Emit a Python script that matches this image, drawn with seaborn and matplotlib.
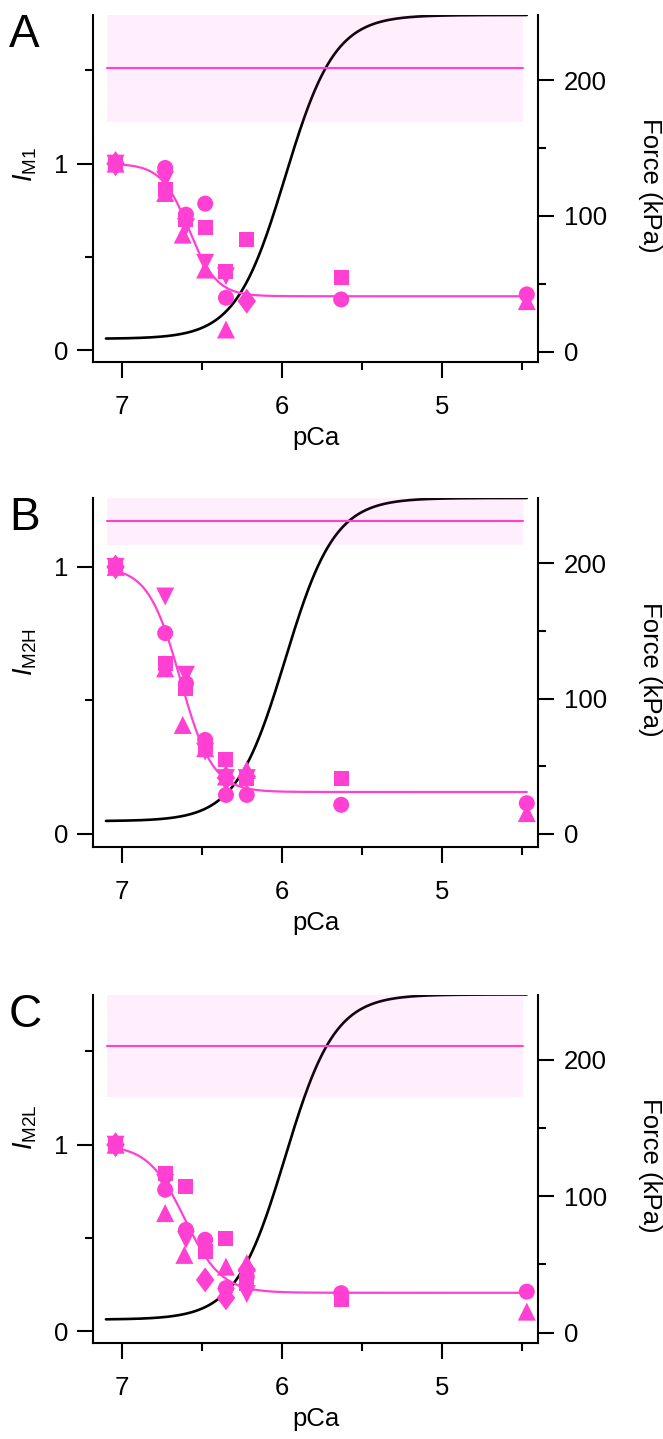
import numpy as np
import pandas as pd
import matplotlib
matplotlib.use("Agg")
import matplotlib.pyplot as plt
import seaborn as sns

sns.set_theme(style="ticks")
plt.rcParams['font.family'] = ['Liberation Sans', 'DejaVu Sans']
plt.rcParams['mathtext.fontset'] = 'custom'
plt.rcParams['mathtext.rm'] = 'Liberation Sans'
plt.rcParams['mathtext.it'] = 'Liberation Sans:italic'
plt.rcParams['mathtext.bf'] = 'Liberation Sans:bold'
plt.rcParams['text.color'] = 'black'
plt.rcParams['axes.labelcolor'] = 'black'
plt.rcParams['xtick.color'] = 'black'
plt.rcParams['ytick.color'] = 'black'
plt.rcParams['axes.edgecolor'] = 'black'

PINK = '#ff40d2'

# ---------------- data ----------------
panel_letters = ['A', 'B', 'C']
ylabels = [r'$\mathit{I}_{\mathrm{M1}}$', r'$\mathit{I}_{\mathrm{M2H}}$', r'$\mathit{I}_{\mathrm{M2L}}$']
xlabel = 'pCa'
force_label = 'Force (kPa)'

# Panel A (I_M1): long-form points
A_shape = ['circle'] * 7 + ['square'] * 7 + ['tri_up'] * 6 + ['tri_down'] * 5 + ['diamond'] * 2
A_pca = [7.04, 6.73, 6.60, 6.48, 6.35, 5.63, 4.47,
         7.04, 6.73, 6.60, 6.48, 6.35, 6.22, 5.63,
         7.04, 6.73, 6.62, 6.48, 6.35, 4.47,
         7.04, 6.73, 6.60, 6.48, 6.35,
         7.04, 6.22]
A_I = [1.0, 0.977, 0.727, 0.786, 0.282, 0.273, 0.300,
       1.0, 0.861, 0.700, 0.656, 0.424, 0.594, 0.389,
       1.0, 0.843, 0.620, 0.433, 0.112, 0.264,
       1.0, 0.914, 0.660, 0.469, 0.397,
       1.0, 0.264]

# Panel B (I_M2H)
B_shape = ['circle'] * 8 + ['square'] * 7 + ['tri_up'] * 7 + ['tri_down'] * 6 + ['diamond'] * 3
B_pca = [7.04, 6.73, 6.60, 6.48, 6.35, 6.22, 5.63, 4.47,
         7.04, 6.73, 6.60, 6.48, 6.35, 6.22, 5.63,
         7.04, 6.73, 6.62, 6.48, 6.35, 6.22, 4.47,
         7.04, 6.73, 6.60, 6.48, 6.35, 6.22,
         7.04, 6.35, 6.22]
B_I = [1.0, 0.752, 0.564, 0.352, 0.146, 0.146, 0.109, 0.115,
       1.0, 0.639, 0.546, 0.327, 0.277, 0.209, 0.209,
       1.0, 0.620, 0.408, 0.321, 0.215, 0.240, 0.078,
       1.0, 0.889, 0.596, 0.308, 0.209, 0.209,
       1.0, 0.210, 0.215]

# Panel C (I_M2L)
C_shape = ['circle'] * 8 + ['square'] * 7 + ['tri_up'] * 6 + ['tri_down'] * 5 + ['diamond'] * 4
C_pca = [7.04, 6.73, 6.60, 6.48, 6.35, 6.22, 5.63, 4.47,
         7.04, 6.73, 6.60, 6.48, 6.35, 6.22, 5.63,
         7.04, 6.73, 6.61, 6.35, 6.22, 4.47,
         7.04, 6.73, 6.60, 6.35, 6.22,
         7.04, 6.48, 6.35, 6.22]
C_I = [1.0, 0.759, 0.544, 0.491, 0.232, 0.294, 0.205, 0.213,
       1.0, 0.848, 0.777, 0.428, 0.500, 0.258, 0.169,
       1.0, 0.634, 0.410, 0.347, 0.366, 0.106,
       1.0, 0.795, 0.491, 0.185, 0.200,
       1.0, 0.276, 0.180, 0.330]

# Hill-fit parameters of the intensity curves: [I_min, pCa50, nH]
fit_Imin = [0.290, 0.157, 0.207]
fit_pca50 = [6.58, 6.635, 6.608]
fit_nH = [5.0, 4.3, 3.8]
fit_range = [7.04, 4.47]

# Force-pCa Hill fit (kPa)
force_Fmin = 9.5
force_Fmax = 248.0
force_pca50 = 5.98
force_nH = 2.8
force_range = [7.10, 4.47]

# resting intensity (mean and SD band)
rest_mean = [1.513, 1.170, 1.529]
rest_sd = [0.288, 0.088, 0.274]
rest_range = [7.094, 4.496]

# axis ranges
xlim = (7.181, 4.40)
ylims_left = [(-0.062, 1.796), (-0.049, 1.258), (-0.062, 1.802)]
ylims_right = [(-7.6, 248.0), (-9.6, 248.0), (-7.7, 247.6)]
y_minor = [[0.5, 1.5], [0.5], [0.5, 1.5]]

panel_data = [(A_shape, A_pca, A_I), (B_shape, B_pca, B_I), (C_shape, C_pca, C_I)]

# ---------------- figure ----------------
W, H = 663, 1439
fig = plt.figure(figsize=(W / 100, H / 100), dpi=100)

ax_left_px, ax_right_px = 93, 538
tops_px = [15, 498, 995]
bottoms_px = [362, 847, 1343]
ylabel_y = [0.568, 0.559, 0.621]
letter_baseline_px = [47, 530, 1027]

diamond_verts = [(0, 1), (0.74, 0), (0, -1), (-0.74, 0), (0, 1)]
markers = {'circle': 'o', 'square': 's', 'tri_up': '^', 'tri_down': 'v', 'diamond': diamond_verts}
px = 0.72
sizes = {'circle': (16 * px) ** 2, 'square': (15 * px) ** 2, 'tri_up': (18 * px) ** 2,
         'tri_down': (18 * px) ** 2, 'diamond': (25 * px) ** 2}

FS = 18.5
lw_spine = 1.5

for i in range(3):
    rect = [ax_left_px / W, 1 - bottoms_px[i] / H,
            (ax_right_px - ax_left_px) / W, (bottoms_px[i] - tops_px[i]) / H]
    ax = fig.add_axes(rect)
    ax2 = ax.twinx()
    ax.set_zorder(ax2.get_zorder() + 1)
    ax.patch.set_visible(False)

    # force curve
    xf = np.linspace(force_range[0], force_range[1], 400)
    F = force_Fmin + (force_Fmax - force_Fmin) / (1 + 10 ** (force_nH * (xf - force_pca50)))
    sns.lineplot(x=xf, y=F, ax=ax2, color='black', linewidth=1.9, sort=False)

    # rest band + line
    ax.fill_between(rest_range, rest_mean[i] - rest_sd[i], rest_mean[i] + rest_sd[i],
                    color=PINK, alpha=0.085, linewidth=0, zorder=1)
    ax.plot(rest_range, [rest_mean[i], rest_mean[i]], color=PINK, linewidth=1.5, zorder=2)

    # intensity fit
    xi = np.linspace(fit_range[0], fit_range[1], 400)
    Ii = fit_Imin[i] + (1 - fit_Imin[i]) / (1 + 10 ** (fit_nH[i] * (fit_pca50[i] - xi)))
    sns.lineplot(x=xi, y=Ii, ax=ax, color=PINK, linewidth=1.6, sort=False, zorder=3)

    shp, pc, iv = panel_data[i]
    df = pd.DataFrame({'shape': shp, 'pCa': pc, 'I': iv})
    sns.scatterplot(data=df, x='pCa', y='I', style='shape', size='shape',
                    markers=markers, sizes=sizes, color=PINK, linewidth=0,
                    legend=False, ax=ax, zorder=4)

    ax.set_xlim(*xlim)
    ax.set_ylim(*ylims_left[i])
    ax2.set_ylim(*ylims_right[i])

    ax.set_xticks([7, 6, 5])
    ax.set_xticklabels(['7', '6', '5'])
    ax.set_xticks([6.5, 5.5, 4.5], minor=True)
    ax.set_yticks([0, 1])
    ax.set_yticklabels(['0', '1'])
    ax.set_yticks(y_minor[i], minor=True)
    ax2.set_yticks([0, 100, 200])
    ax2.set_yticklabels(['0', '100', '200'])
    ax2.set_yticks([50, 150], minor=True)

    for a in (ax, ax2):
        a.tick_params(which='major', direction='out', length=11.5, width=lw_spine,
                      labelsize=FS, color='black', labelcolor='black')
        a.tick_params(which='minor', direction='out', length=6, width=lw_spine, color='black')
        for s in a.spines.values():
            s.set_linewidth(lw_spine)
            s.set_color('black')
    ax.tick_params(axis='x', which='major', pad=12)
    ax.tick_params(axis='y', which='major', pad=6)
    ax2.tick_params(axis='y', which='major', pad=7)

    ax.spines['top'].set_visible(False)
    ax.spines['right'].set_visible(False)
    ax2.spines['top'].set_visible(False)
    ax2.spines['left'].set_visible(False)
    ax2.spines['bottom'].set_visible(False)

    ax.set_xlabel(xlabel, fontsize=FS, labelpad=5, color='black')
    ax.set_ylabel(ylabels[i], fontsize=FS + 1, ha='center', va='center', color='black')
    ax.yaxis.set_label_coords(-0.153, ylabel_y[i])
    ax2.set_ylabel(force_label, fontsize=FS, rotation=270, ha='center', va='center',
                   color='black')
    ax2.yaxis.set_label_coords(1.252, 0.51)

    fig.text(9 / W, 1 - letter_baseline_px[i] / H, panel_letters[i], fontsize=33,
             ha='left', va='baseline', color='black')

fig.savefig('out.png', dpi=100, facecolor='white')
